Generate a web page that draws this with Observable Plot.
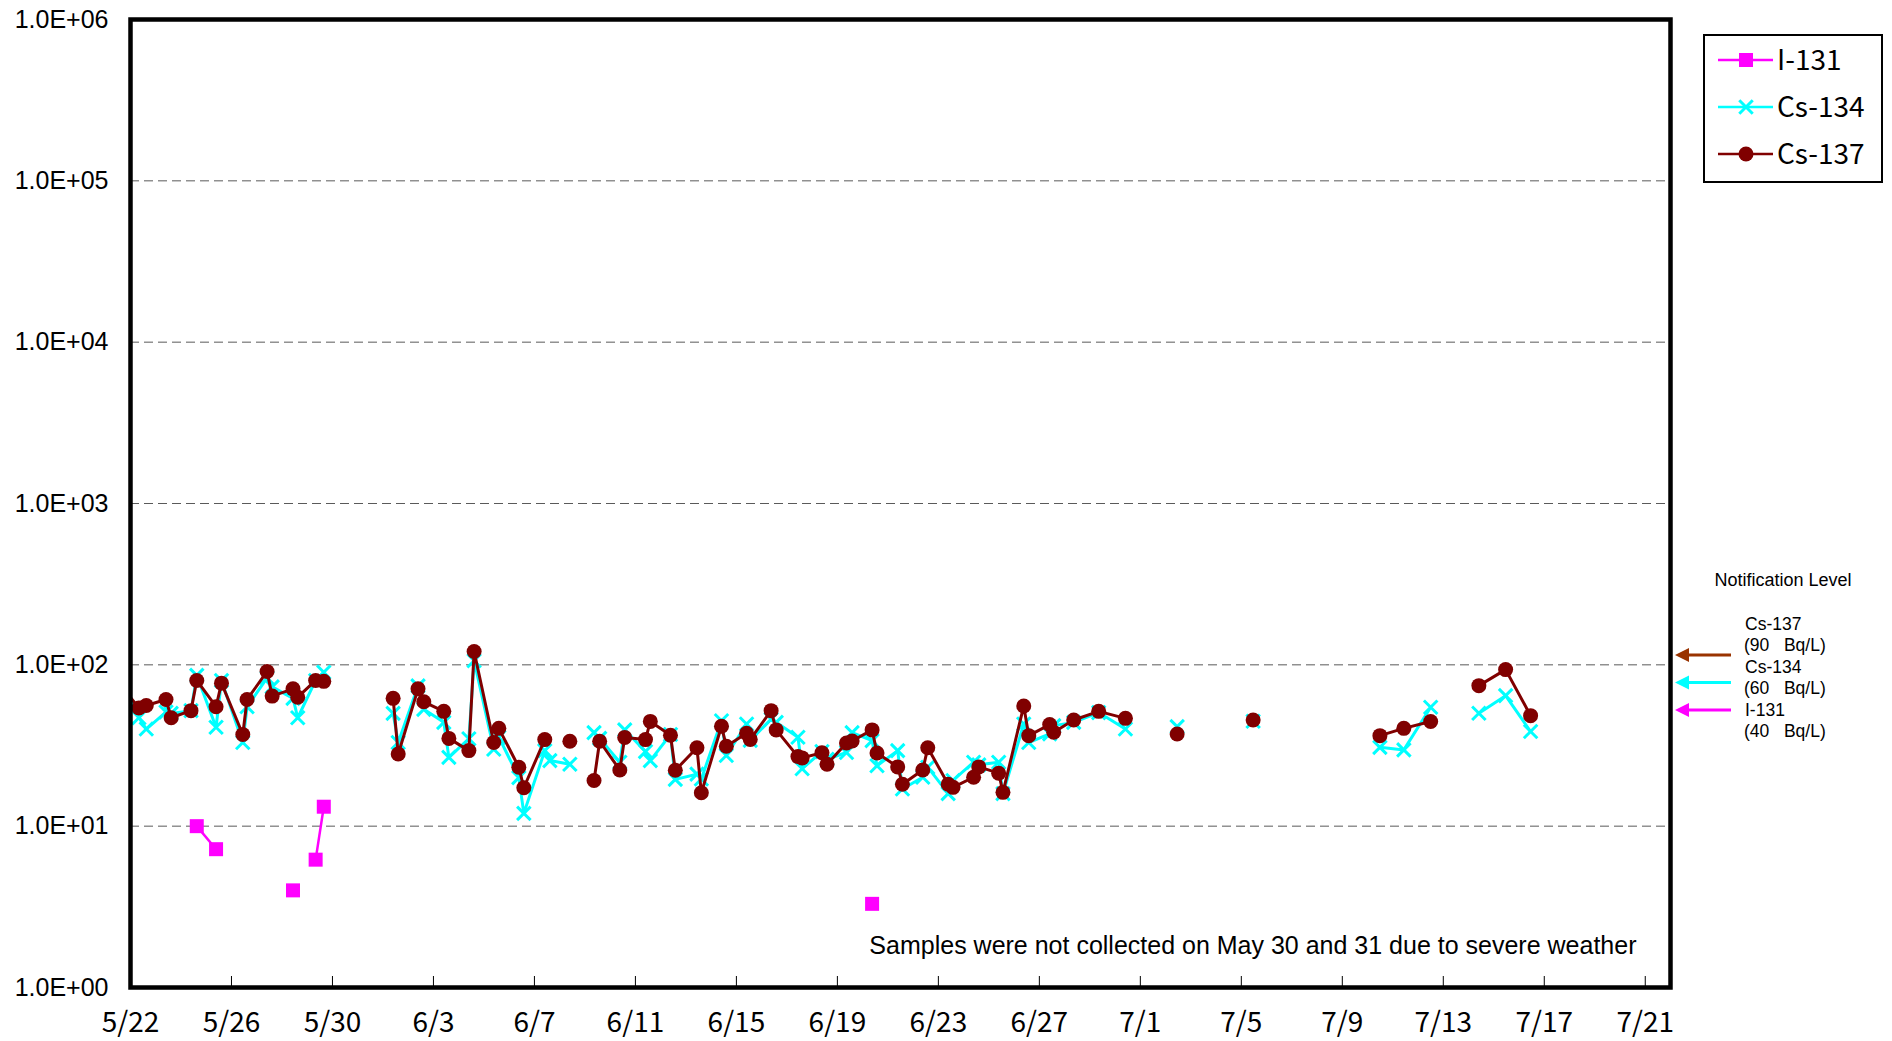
<!DOCTYPE html>
<html>
<head>
<meta charset="utf-8">
<script src="https://cdn.jsdelivr.net/npm/d3@7"></script>
<script src="https://cdn.jsdelivr.net/npm/@observablehq/plot@0.6"></script>
<style>
  html, body { margin: 0; padding: 0; background: #ffffff; }
  #wrap { position: relative; width: 1892px; height: 1041px; overflow: hidden; }
  #wrap > svg { display: block; }
  #overlay { position: absolute; left: 0; top: 0; }
</style>
</head>
<body>
<div id="wrap"></div>
<script>
// ---------------- data ----------------
const sampleTimes = [
  "5/21 14:30","5/22 8:00","5/22 15:00","5/23 9:45","5/23 14:40","5/24 9:30","5/24 15:00",
  "5/25 9:20","5/25 14:30","5/26 10:45","5/26 14:50","5/27 9:50","5/27 14:40","5/28 10:30",
  "5/28 15:00","5/29 8:00","5/29 15:45","5/30 9:30","5/31 9:30",
  "6/1 9:40","6/1 14:30","6/2 9:20","6/2 14:50","6/3 9:50","6/3 14:40","6/4 9:40","6/4 14:40",
  "6/5 9:20","6/5 14:10","6/6 9:10","6/6 13:55","6/7 9:50","6/7 14:40","6/8 9:40","6/8 14:40",
  "6/9 8:40","6/9 14:00","6/10 9:10","6/10 13:50","6/11 9:35","6/11 14:10","6/12 9:20","6/12 13:55",
  "6/13 10:30","6/13 14:40","6/14 9:50","6/14 14:25","6/15 9:40","6/15 13:10","6/16 9:00","6/16 13:50",
  "6/17 10:30","6/17 14:30","6/18 9:20","6/18 14:10","6/19 8:40","6/19 14:00","6/20 9:00","6/20 13:40",
  "6/21 9:20","6/21 13:50","6/22 9:10","6/22 13:55","6/23 9:20","6/23 13:55","6/24 9:30","6/24 14:25",
  "6/25 9:20","6/25 13:25","6/26 9:10","6/26 13:55","6/27 9:50","6/27 13:40","6/28 8:40","6/29 8:25",
  "6/30 9:50","7/1 10:00","7/2 11:00","7/3 10:00","7/4 10:00","7/5 11:15","7/6 10:00","7/7 10:00",
  "7/8 10:00","7/9 10:00","7/10 11:45","7/11 10:30","7/12 12:00","7/13 10:00","7/14 9:50","7/15 11:15",
  "7/16 11:00"
];
const i131 = [
  null,null,null,null,null,null,10,
  7.2,null,null,null,null,null,4.0,
  null,6.2,13.2,null,null,
  null,null,null,null,null,null,null,null,
  null,null,null,null,null,null,null,null,
  null,null,null,null,null,null,null,null,
  null,null,null,null,null,null,null,null,
  null,null,null,null,null,null,3.3,null,
  null,null,null,null,null,null,null,null,
  null,null,null,null,null,null,null,null,
  null,null,null,null,null,null,null,null,
  null,null,null,null,null,null,null,null,
  null
];
const cs134 = [
  80,47,40,51,50,52,86,
  41,80,33,55,83,73,62,
  47,80,90,null,null,
  50,33,74,53,44,26.7,34.8,106,
  30,35.6,20,12,29.4,25.5,24.2,null,
  38,35,24.9,39.5,29,25.5,37,19.5,
  21,19.6,45,27.4,43,34,46,44,
  35.6,22.7,29,26,28.6,38,33.9,23.7,
  29.4,17,20.1,23.2,15.9,19.2,24.9,24,
  24.9,15.9,43,33,37.3,42,44,50.6,
  40,null,41.4,null,null,44.7,null,null,
  null,null,30.8,29.7,54.6,null,50.1,64.4,
  38.6
];
const cs137 = [
  75,54,56,61,47,52,80,
  55,77,37,61,91,64,71,
  63,80,79,null,null,
  62,28,71,59,51.5,35,29.4,121,
  33,40.4,23.2,17.3,34.4,null,33.6,null,
  19.2,33.6,22.3,35.5,34.4,44.6,36.6,22.2,
  30.6,16.1,41.6,31.3,37.7,34.5,52,39.5,
  27,26.5,28.5,24.2,32.8,33.7,39.5,28.4,
  23.3,18.2,22.3,30.6,18.2,17.4,20.1,23.3,
  21.3,16.2,55.6,36.4,42.6,38.2,45.5,51.5,
  46.6,null,37.3,null,null,45.5,null,null,
  null,null,36.4,40.4,44.5,null,74.3,93.4,
  48.4
];
const xTickLabels = ["5/22","5/26","5/30","6/3","6/7","6/11","6/15","6/19","6/23","6/27","7/1","7/5","7/9","7/13","7/17","7/21"];
const yTickValues = [1, 10, 100, 1000, 10000, 100000, 1000000];
const yTickLabels = ["1.0E+00","1.0E+01","1.0E+02","1.0E+03","1.0E+04","1.0E+05","1.0E+06"];
const gridValues = [10, 100, 1000, 10000, 100000];
const seriesNames = ["I-131", "Cs-134", "Cs-137"];
const seriesColors = ["#FF00FF", "#00FFFF", "#800000"];
const notificationTitle = "Notification Level";
const notificationNames = ["Cs-137", "Cs-134", "I-131"];
const notificationValues = ["(90\u00A0\u00A0\u00A0Bq/L)", "(60\u00A0\u00A0\u00A0Bq/L)", "(40\u00A0\u00A0\u00A0Bq/L)"];
const notificationColors = ["#993300", "#00FFFF", "#FF00FF"];
const noteText = "Samples were not collected on May 30 and 31 due to severe weather";
const xStart = "5/22 0:00", xEnd = "7/22 0:00";

// ---------------- build ----------------
const parse = s => d3.utcParse("%Y/%m/%d %H:%M")("2011/" + s);
const rows = sampleTimes.map((t, i) => ({date: parse(t), i131: i131[i], cs134: cs134[i], cs137: cs137[i]}));
const x0 = parse(xStart), x1 = parse(xEnd);
const xTickDates = xTickLabels.map(s => parse(s + " 0:00"));
const inView = d => d.date >= x0 && d.date <= x1;

const mono = "'Noto Sans CJK JP', 'Noto Sans', sans-serif";
const sans = "'Liberation Sans', Arial, sans-serif";

const chart = Plot.plot({
  width: 1892,
  height: 1041,
  marginLeft: 130,
  marginRight: 222,
  marginTop: 19,
  marginBottom: 54,
  style: {background: "#ffffff", color: "#000000", fontFamily: sans, overflow: "visible"},
  x: {type: "utc", domain: [x0, x1], label: null},
  y: {type: "log", domain: [1, 1e6], label: null},
  marks: [
    Plot.ruleY(gridValues, {stroke: "#5a5a5a", strokeWidth: 1, strokeDasharray: "9,5"}),
    Plot.axisY({ticks: yTickValues, tickSize: 0, tickPadding: 22, fontSize: 25, fontFamily: sans,
      tickFormat: d => yTickLabels[yTickValues.indexOf(d)], label: null}),
    Plot.axisX({ticks: xTickDates, tickSize: 0, tickPadding: 25, fontSize: 28, fontFamily: mono,
      tickFormat: (d) => xTickLabels[xTickDates.findIndex(t => +t === +d)], label: null}),
    Plot.tickX(xTickDates.slice(1), {x: d => d, stroke: "#000000", strokeWidth: 1, insetTop: 957}),
    // I-131
    Plot.line(rows, {x: "date", y: "i131", stroke: seriesColors[0], strokeWidth: 2.5, clip: true}),
    Plot.dot(rows.filter(inView), {x: "date", y: "i131", symbol: "square", fill: seriesColors[0], r: 7.9}),
    // Cs-134
    Plot.line(rows, {x: "date", y: "cs134", stroke: seriesColors[1], strokeWidth: 3, clip: true}),
    Plot.dot(rows.filter(inView), {x: "date", y: "cs134", symbol: "times", stroke: seriesColors[1], strokeWidth: 3, r: 6.2}),
    // Cs-137
    Plot.line(rows, {x: "date", y: "cs137", stroke: seriesColors[2], strokeWidth: 3, clip: true}),
    Plot.dot(rows.filter(inView), {x: "date", y: "cs137", fill: seriesColors[2], r: 7.5}),
    Plot.text([noteText], {frameAnchor: "bottom-right", dx: -34, dy: -41.5, lineAnchor: "middle",
      textAnchor: "end", fontSize: 25, fontFamily: sans, fill: "#000000"}),
    Plot.frame({stroke: "#000000", strokeWidth: 4.5})
  ]
});
const wrap = document.getElementById("wrap");
wrap.appendChild(chart);

// ---------------- legend + notification-level annotation (overlay) ----------------
const ov = d3.create("svg").attr("id", "overlay").attr("width", 1892).attr("height", 1041);
const lg = ov.append("g");
lg.append("rect").attr("x", 1704).attr("y", 35).attr("width", 178).attr("height", 147)
  .attr("fill", "#ffffff").attr("stroke", "#000000").attr("stroke-width", 2);
const symbols = [d3.symbolSquare, d3.symbolTimes, d3.symbolCircle];
seriesNames.forEach((name, i) => {
  const cy = 60 + i * 47;
  lg.append("line").attr("x1", 1718).attr("x2", 1773).attr("y1", cy).attr("y2", cy)
    .attr("stroke", seriesColors[i]).attr("stroke-width", 2.5);
  const path = d3.symbol(symbols[i], i === 0 ? 196 : i === 1 ? 120 : 177)();
  const m = lg.append("path").attr("d", path).attr("transform", `translate(1746,${cy})`);
  if (i === 1) m.attr("fill", "none").attr("stroke", seriesColors[i]).attr("stroke-width", 3);
  else m.attr("fill", seriesColors[i]);
  lg.append("text").attr("x", 1777).attr("y", cy).attr("dy", "0.36em")
    .attr("font-family", mono).attr("font-size", 28).attr("fill", "#000000").text(name);
});

const an = ov.append("g");
an.append("text").attr("x", 1783).attr("y", 586).attr("text-anchor", "middle")
  .attr("font-family", sans).attr("font-size", 18).attr("fill", "#000000").text(notificationTitle);
notificationNames.forEach((name, i) => {
  const base = 630 + i * 43;
  an.append("text").attr("x", 1745).attr("y", base).attr("font-family", sans)
    .attr("font-size", 17.5).attr("fill", "#000000").text(name);
  an.append("text").attr("x", 1744).attr("y", base + 21).attr("font-family", sans)
    .attr("font-size", 17.5).attr("fill", "#000000").text(notificationValues[i]);
  const ay = 655 + i * 27.5;
  an.append("line").attr("x1", 1686).attr("x2", 1731).attr("y1", ay).attr("y2", ay)
    .attr("stroke", notificationColors[i]).attr("stroke-width", 3);
  an.append("path").attr("d", `M1675,${ay} L1689,${ay - 7} L1689,${ay + 7} Z`).attr("fill", notificationColors[i]);
});
wrap.appendChild(ov.node());
</script>
</body>
</html>
